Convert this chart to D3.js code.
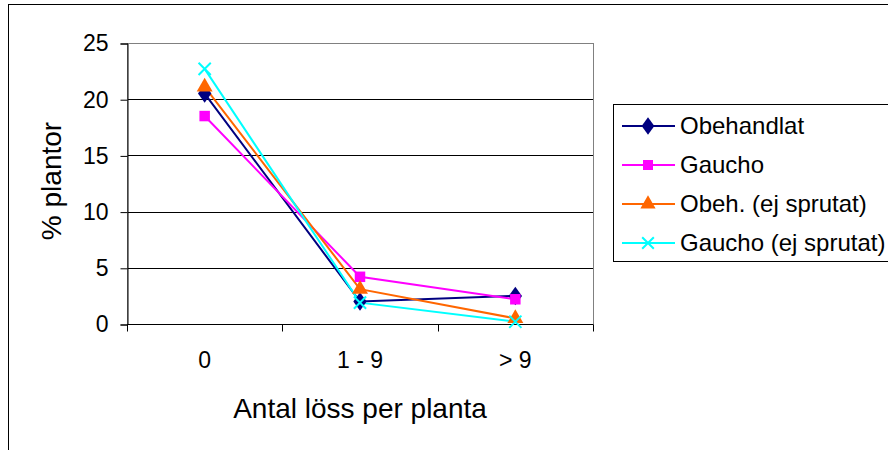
<!DOCTYPE html>
<html>
<head>
<meta charset="utf-8" />
<title>Antal löss per planta</title>
<script src="https://d3js.org/d3.v7.min.js"></script>
<style>
  body { margin: 0; background: #fff; }
  text { font-family: "Liberation Sans", Arial, sans-serif; fill: #000; }
</style>
</head>
<body>
<script>
var categories = ['0', '1 - 9', '> 9'];
var obehandlat = [20.5, 2.0, 2.5];
var gaucho = [18.5, 4.2, 2.2];
var obehEjSprutat = [21.1, 3.1, 0.5];
var gauchoEjSprutat = [22.7, 1.9, 0.2];
var yTicks = [0, 5, 10, 15, 20, 25];

var series = [
    { name: 'Obehandlat', values: obehandlat, color: '#000080', symbol: 'diamond' },
    { name: 'Gaucho', values: gaucho, color: '#ff00ff', symbol: 'square' },
    { name: 'Obeh. (ej sprutat)', values: obehEjSprutat, color: '#ff6600', symbol: 'triangle' },
    { name: 'Gaucho (ej sprutat)', values: gauchoEjSprutat, color: '#00ffff', symbol: 'x' }
];

var width = 888, height = 450;
var pLeft = 127, pRight = 593, pTop = 43, pBottom = 324;

var svg = d3.select('body').append('svg')
    .attr('width', width)
    .attr('height', height);

// outer chart border
svg.append('rect')
    .attr('x', 8.5).attr('y', 4.5)
    .attr('width', 900).attr('height', 500)
    .attr('fill', 'none').attr('stroke', '#000').attr('stroke-width', 1);

var x = d3.scaleBand().domain(categories).range([pLeft, pRight]);
var y = d3.scaleLinear().domain([0, 25]).range([pBottom, pTop]);

// gridlines
svg.append('g').selectAll('line')
    .data(yTicks.filter(function (d) { return d > 0 && d < 25; }))
    .enter().append('line')
    .attr('x1', pLeft).attr('x2', pRight)
    .attr('y1', function (d) { return Math.round(y(d)) + 0.5; })
    .attr('y2', function (d) { return Math.round(y(d)) + 0.5; })
    .attr('stroke', '#000').attr('stroke-width', 1);

// plot area border
svg.append('rect')
    .attr('x', pLeft + 0.5).attr('y', pTop + 0.5)
    .attr('width', pRight - pLeft).attr('height', pBottom - pTop)
    .attr('fill', 'none').attr('stroke', '#808080').attr('stroke-width', 1);

// y axis
var yAxis = svg.append('g')
    .attr('transform', 'translate(' + (pLeft + 0.5) + ',0.5)')
    .call(d3.axisLeft(y).tickValues(yTicks).tickSize(7).tickPadding(12));
yAxis.select('.domain').attr('stroke', '#000');
yAxis.selectAll('text').style('font-size', '23px').attr('fill', '#000');

// x axis
var xAxis = svg.append('g')
    .attr('transform', 'translate(0,' + (pBottom + 0.5) + ')')
    .call(d3.axisBottom(x).tickSize(0).tickPadding(27));
xAxis.select('.domain').attr('stroke', '#000').attr('d', 'M' + pLeft + ',0H' + pRight);
xAxis.selectAll('text').style('font-size', '23px').attr('fill', '#000');
xAxis.selectAll('.bound')
    .data(d3.range(categories.length + 1))
    .enter().append('line')
    .attr('class', 'bound')
    .attr('x1', function (i) { return Math.round(pLeft + i * x.step()) + 0.5; })
    .attr('x2', function (i) { return Math.round(pLeft + i * x.step()) + 0.5; })
    .attr('y1', 0).attr('y2', 7)
    .attr('stroke', '#000');

// axis titles
svg.append('text')
    .attr('x', (pLeft + pRight) / 2).attr('y', 418)
    .attr('text-anchor', 'middle')
    .style('font-size', '28px')
    .text('Antal löss per planta');

svg.append('text')
    .attr('transform', 'translate(61,181) rotate(-90)')
    .attr('text-anchor', 'middle')
    .style('font-size', '28px')
    .text('% plantor');

function drawSymbol(g, s, size) {
    if (s.symbol === 'diamond') {
        g.append('path').attr('d', d3.symbol(d3.symbolDiamond, size * 0.9)())
            .attr('transform', 'scale(1.25,1)')
            .attr('fill', s.color);
    } else if (s.symbol === 'square') {
        g.append('path').attr('d', d3.symbol(d3.symbolSquare, size)())
            .attr('fill', s.color);
    } else if (s.symbol === 'triangle') {
        g.append('path').attr('d', d3.symbol(d3.symbolTriangle, size)())
            .attr('fill', s.color);
    } else {
        g.append('path').attr('d', d3.symbol(d3.symbolTimes, size * 0.9)())
            .attr('stroke', s.color).attr('stroke-width', 2).attr('fill', 'none');
    }
}

var line = d3.line()
    .x(function (d, i) { return x(categories[i]) + x.bandwidth() / 2; })
    .y(function (d) { return y(d); });

series.forEach(function (s) {
    svg.append('path')
        .attr('d', line(s.values))
        .attr('fill', 'none')
        .attr('stroke', s.color)
        .attr('stroke-width', 2);
});
series.forEach(function (s) {
    s.values.forEach(function (v, i) {
        var g = svg.append('g')
            .attr('transform', 'translate(' + (x(categories[i]) + x.bandwidth() / 2) + ',' + y(v) + ')');
        drawSymbol(g, s, 110);
    });
});

// legend
var legend = svg.append('g');
legend.append('rect')
    .attr('x', 613.5).attr('y', 104.5)
    .attr('width', 290).attr('height', 157)
    .attr('fill', '#fff').attr('stroke', '#000');

series.forEach(function (s, i) {
    var ly = 126 + i * 39;
    var g = legend.append('g').attr('transform', 'translate(0,' + ly + ')');
    g.append('line')
        .attr('x1', 622).attr('x2', 675)
        .attr('y1', 0).attr('y2', 0)
        .attr('stroke', s.color).attr('stroke-width', 2);
    var m = g.append('g').attr('transform', 'translate(648,0)');
    drawSymbol(m, s, 100);
    g.append('text')
        .attr('x', 680).attr('y', 0)
        .attr('dy', '0.35em')
        .style('font-size', '24px')
        .text(s.name);
});
</script>
</body>
</html>
